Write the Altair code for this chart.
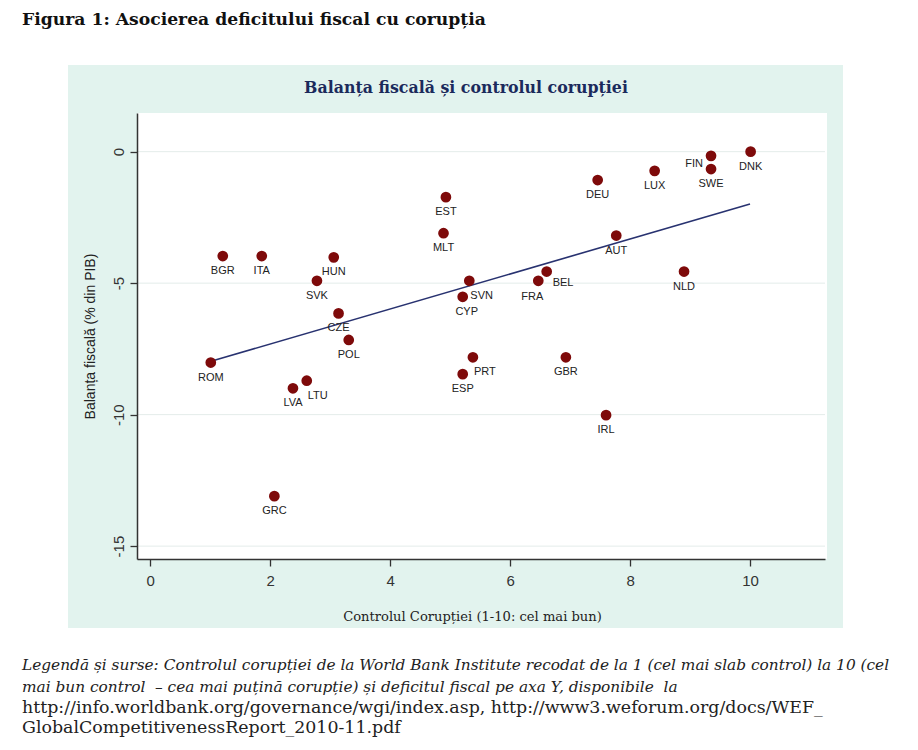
import altair as alt
import pandas as pd

# ---- data ----
countries = ["ROM", "BGR", "ITA", "GRC", "LVA", "LTU", "SVK", "HUN", "CZE", "POL",
             "MLT", "EST", "CYP", "ESP", "SVN", "PRT", "FRA", "BEL", "GBR", "DEU",
             "IRL", "AUT", "LUX", "NLD", "FIN", "SWE", "DNK"]
control = [1.01, 1.21, 1.86, 2.07, 2.38, 2.61, 2.78, 3.06, 3.14, 3.31,
           4.89, 4.93, 5.21, 5.21, 5.32, 5.38, 6.47, 6.61, 6.93, 7.46,
           7.60, 7.77, 8.41, 8.90, 9.35, 9.35, 10.01]
balance = [-8.02, -3.97, -3.97, -13.10, -9.00, -8.71, -4.91, -4.02, -6.15, -7.16,
           -3.10, -1.73, -5.52, -8.46, -4.91, -7.82, -4.91, -4.56, -7.82, -1.08,
           -10.02, -3.19, -0.73, -4.56, -0.16, -0.66, 0.00]
fit_x = [1.0, 10.0]
fit_y = [-7.98, -1.99]
x_ticks = [0, 2, 4, 6, 8, 10]
y_ticks = [0, -5, -10, -15]

fig_title = "Figura 1: Asocierea deficitului fiscal cu corupția"
panel_title = "Balanța fiscală și controlul corupției"
x_title = "Controlul Corupției (1-10: cel mai bun)"
y_title = "Balanța fiscală (% din PIB)"
notes_italic = [
    "Legendă și surse: Controlul corupției de la World Bank Institute recodat de la 1 (cel mai slab control) la 10 (cel",
    "mai bun control \u00a0– cea mai puțină corupție) și deficitul fiscal pe axa Y, disponibile \u00a0la",
]
notes_plain = [
    "http://info.worldbank.org/governance/wgi/index.asp, http://www3.weforum.org/docs/WEF_",
    "GlobalCompetitivenessReport_2010-11.pdf",
]

df = pd.DataFrame({"country": countries, "control": control, "balance": balance})
fit_df = pd.DataFrame({"control": fit_x, "balance": fit_y})
grid_df = pd.DataFrame({"balance": y_ticks})
one = pd.DataFrame({"k": [0]})

W, H = 688, 446
xs = alt.Scale(domain=[-0.22, 11.25], nice=False, zero=False)
ys = alt.Scale(domain=[-15.49, 1.47], nice=False, zero=False)

x_axis = alt.Axis(values=x_ticks, format="d", grid=False, zindex=1,
                  domainColor="#333", domainWidth=1.5, tickColor="#333",
                  tickSize=7, tickWidth=1.3, labelFont="Liberation Sans",
                  labelFontSize=15, labelColor="#333", labelPadding=7,
                  titleFont="DejaVu Serif", titleFontSize=13.1,
                  titleFontWeight="normal", titleColor="#222",
                  titlePadding=22, titleX=335)
y_axis = alt.Axis(values=y_ticks, grid=False, zindex=1,
                  labelExpr="datum.value == 0 ? '0' : '-' + abs(datum.value)",
                  domainColor="#333", domainWidth=1.5, tickColor="#333",
                  tickSize=7, tickWidth=1.3, labelFont="Liberation Sans",
                  labelFontSize=15, labelColor="#333", labelPadding=4,
                  labelAngle=-90,
                  titleFont="Liberation Sans", titleFontSize=14,
                  titleFontWeight="normal", titleColor="#222",
                  titlePadding=14)
X = alt.X("control:Q", scale=xs, title=x_title, axis=x_axis)
Y = alt.Y("balance:Q", scale=ys, title=y_title, axis=y_axis)

panel = alt.Chart(one).mark_rect(fill="#e2f3ee").encode(
    x=alt.value(-69), x2=alt.value(706), y=alt.value(-48), y2=alt.value(515))
plotbg = alt.Chart(one).mark_rect(fill="white").encode(
    x=alt.value(0), x2=alt.value(690), y=alt.value(0), y2=alt.value(H))

grid = alt.Chart(grid_df).mark_rule(color="#e4ecea", strokeWidth=1).encode(y=Y)

fit = alt.Chart(fit_df).mark_line(color="#283270", strokeWidth=1.6).encode(x=X, y=Y)

points = alt.Chart(df).mark_circle(size=115, color="#7e0a0a", opacity=1).encode(x=X, y=Y)


def labels(names, align, dx, dy, keep=True):
    pred = alt.FieldOneOfPredicate(field="country", oneOf=names)
    flt = pred if keep else {"not": pred}
    return alt.Chart(df).transform_filter(flt).mark_text(
        align=align, baseline="middle", dx=dx, dy=dy,
        font="Liberation Sans", fontSize=11, color="#222").encode(
        x=X, y=Y, text="country:N")


special = ["SVN", "PRT", "LTU", "BEL", "FIN", "FRA", "CYP"]
lab_default = labels(special, "center", 0, 15, keep=False)
lab_right = labels(["SVN", "PRT", "LTU"], "left", 1, 15)
lab_bel = labels(["BEL"], "left", 6, 11)
lab_fin = labels(["FIN"], "right", -8, 8)
lab_fra = labels(["FRA"], "center", -6, 16)
lab_cyp = labels(["CYP"], "center", 4, 15)


def note(text, x, y, **kw):
    return alt.Chart(pd.DataFrame({"t": [text]})).mark_text(
        baseline="middle", **kw).encode(
        x=alt.value(x), y=alt.value(y), text="t:N")


t_fig = note(fig_title, -115, -93, align="left", font="DejaVu Serif",
             fontSize=17.2, fontWeight="bold", color="#111")
t_panel = note(panel_title, 329, -25, align="center", font="DejaVu Serif",
               fontSize=15.8, fontWeight="bold", color="#1b2a5c")
n1 = note(notes_italic[0], -115, 552, align="left", font="DejaVu Serif",
          fontSize=15.35, fontStyle="italic", color="#222")
n2 = note(notes_italic[1], -115, 574, align="left", font="DejaVu Serif",
          fontSize=15.35, fontStyle="italic", color="#222")
n3 = note(notes_plain[0], -115, 595, align="left", font="DejaVu Serif",
          fontSize=17.4, color="#222")
n4 = note(notes_plain[1], -115, 615, align="left", font="DejaVu Serif",
          fontSize=17.4, color="#222")

chart = alt.layer(
    panel, plotbg, grid, fit, points,
    lab_default, lab_right, lab_bel, lab_fin, lab_fra, lab_cyp,
    t_fig, t_panel, n1, n2, n3, n4,
).properties(
    width=W, height=H,
    autosize=alt.AutoSizeParams(type="none"),
    padding={"left": 129, "top": 105, "right": 80, "bottom": 180},
    background="white",
).configure_view(stroke=None, fill=None)

chart.save("out.html", embed_options={"renderer": "svg", "actions": False})
